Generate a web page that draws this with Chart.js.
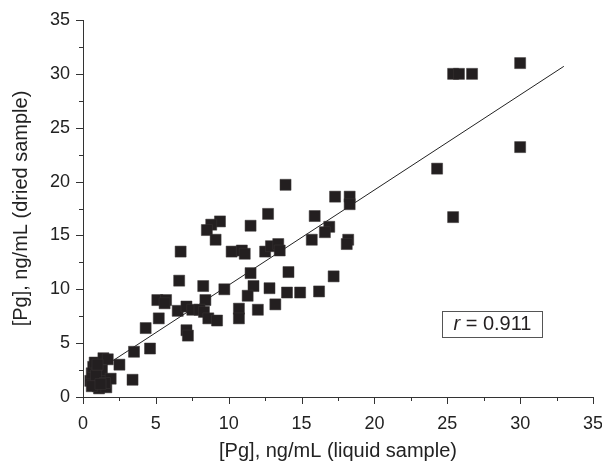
<!DOCTYPE html>
<html>
<head>
<meta charset="utf-8">
<script src="https://cdn.jsdelivr.net/npm/chart.js@4"></script>
<style>
  html, body { margin: 0; padding: 0; background: #fff; }
  #wrap { width: 602px; height: 463px; }
</style>
</head>
<body>
<div id="wrap"><canvas id="pgChart"></canvas></div>
<script>
// [Pg] liquid sample (x) vs dried sample (y), ng/mL
const liquidX = [30.0, 25.4, 25.8, 26.7, 30.0, 24.3, 25.4, 13.9, 17.3, 18.3, 18.3, 12.7, 15.9, 11.5, 9.4, 8.8,
    8.5, 9.1, 16.9, 16.6, 15.7, 18.2, 18.1, 6.7, 10.2, 10.9, 11.1, 12.5, 12.9, 13.4, 13.5, 11.5,
    14.1, 17.2, 6.6, 8.25, 9.7, 11.7, 11.3, 12.8, 14.0, 14.9, 16.2, 5.1, 5.7, 5.6, 8.4, 6.5,
    7.1, 7.5, 8.0, 8.3, 8.6, 9.2, 10.7, 10.7, 12.0, 13.2, 7.1, 7.2, 5.2, 4.3, 4.6, 3.5,
    2.5, 3.4, 0.5, 0.6, 0.7, 0.8, 1.0, 1.1, 1.2, 1.3, 1.4, 1.6, 1.7, 1.9, 0.9, 1.0,
    0.6, 1.5, 1.2];
const driedY = [31.0, 30.0, 30.0, 30.0, 23.2, 21.2, 16.7, 19.7, 18.6, 18.6, 17.9, 17.0, 16.8, 15.9, 16.3, 16.0,
    15.5, 14.6, 15.8, 15.3, 14.6, 14.6, 14.2, 13.5, 13.5, 13.6, 13.3, 13.5, 14.0, 14.2, 13.6, 11.5,
    11.6, 11.2, 10.8, 10.3, 10.0, 10.3, 9.4, 10.1, 9.7, 9.7, 9.8, 9.0, 9.0, 8.7, 9.0, 8.0,
    8.4, 8.1, 8.1, 7.9, 7.3, 7.1, 8.2, 7.3, 8.1, 8.6, 6.2, 5.7, 7.3, 6.4, 4.5, 4.2,
    3.0, 1.6, 1.5, 2.2, 2.8, 3.2, 1.0, 0.8, 1.8, 2.5, 3.6, 0.9, 3.5, 1.7, 2.0, 3.0,
    1.0, 1.3, 1.2];

// fitted line end points
const fitX = [1.2, 33.0];
const fitY = [2.62, 30.7];

const axisTicks = [0, 5, 10, 15, 20, 25, 30, 35];
const rLabel = { italic: 'r', rest: ' = 0.911', x: 28.1, y: 6.8 };

const ink = '#231f20';
const font = '"Liberation Sans", Arial, sans-serif';

const scatterData = liquidX.map((x, i) => ({ x: x, y: driedY[i] }));
const fitData = fitX.map((x, i) => ({ x: x, y: fitY[i] }));

// outward major + minor ticks and the r box
const extras = {
    id: 'extras',
    afterDraw(chart) {
        const ctx = chart.ctx;
        const xs = chart.scales.x, ys = chart.scales.y;
        const x0 = xs.getPixelForValue(0), y0 = ys.getPixelForValue(0);
        ctx.save();
        ctx.strokeStyle = '#333';
        ctx.lineWidth = 1;
        ctx.beginPath();
        for (let v = 0; v <= 35; v += 2.5) {
            const len = v % 5 === 0 ? 7 : 4;
            const px = Math.round(xs.getPixelForValue(v)) + 0.5;
            ctx.moveTo(px, y0);
            ctx.lineTo(px, y0 + len);
            const py = Math.round(ys.getPixelForValue(v)) + 0.5;
            ctx.moveTo(x0, py);
            ctx.lineTo(x0 - len, py);
        }
        ctx.stroke();

        // r label box
        const cx = xs.getPixelForValue(rLabel.x);
        const cy = ys.getPixelForValue(rLabel.y);
        ctx.font = 'italic 20px ' + font;
        const w1 = ctx.measureText(rLabel.italic).width;
        ctx.font = '20px ' + font;
        const w2 = ctx.measureText(rLabel.rest).width;
        const tw = w1 + w2;
        ctx.fillStyle = '#fff';
        ctx.fillRect(cx - 50, cy - 13, 100, 26);
        ctx.strokeStyle = '#555';
        ctx.strokeRect(Math.round(cx - 50) + 0.5, Math.round(cy - 13) + 0.5, 100, 26);
        ctx.fillStyle = ink;
        ctx.textBaseline = 'middle';
        ctx.textAlign = 'left';
        ctx.font = 'italic 20px ' + font;
        ctx.fillText(rLabel.italic, cx - tw / 2, cy + 1);
        ctx.font = '20px ' + font;
        ctx.fillText(rLabel.rest, cx - tw / 2 + w1, cy + 1);
        ctx.restore();
    }
};

const axisBase = {
    type: 'linear',
    min: 0,
    max: 35,
    grid: { display: false, drawTicks: false },
    border: { display: true, color: '#333', width: 1 },
    afterBuildTicks: s => { s.ticks = axisTicks.map(v => ({ value: v })); },
};

new Chart(document.getElementById('pgChart'), {
    type: 'scatter',
    data: {
        datasets: [
            {
                label: 'fit',
                data: fitData,
                showLine: true,
                borderColor: '#222',
                borderWidth: 1,
                pointRadius: 0,
                order: 2,
            },
            {
                label: 'samples',
                data: scatterData,
                pointStyle: 'rect',
                pointRadius: 7.8,
                backgroundColor: ink,
                borderColor: '#3a3637',
                borderWidth: 0.5,
                order: 1,
            }
        ]
    },
    options: {
        responsive: true,
        maintainAspectRatio: false,
        animation: false,
        layout: { padding: { top: 20, right: 9, left: 0, bottom: 0 } },
        plugins: {
            legend: { display: false },
            tooltip: { enabled: false },
        },
        scales: {
            x: Object.assign({}, axisBase, {
                position: 'bottom',
                ticks: { color: '#222', font: { family: font, size: 18 }, padding: 16, maxRotation: 0 },
                title: {
                    display: true,
                    text: '[Pg], ng/mL (liquid sample)',
                    color: '#222',
                    font: { family: font, size: 20 },
                    padding: { top: -3, bottom: 0 },
                },
                afterFit: s => { s.height = 66; s.paddingLeft = 0; s.paddingRight = 0; },
            }),
            y: Object.assign({}, axisBase, {
                position: 'left',
                ticks: { color: '#222', font: { family: font, size: 18 }, padding: 13 },
                title: {
                    display: true,
                    text: '[Pg], ng/mL (dried sample)',
                    color: '#222',
                    font: { family: font, size: 20 },
                    padding: { top: 9, bottom: 0 },
                },
                afterFit: s => { s.width = 83; s.paddingTop = 0; s.paddingBottom = 0; },
            }),
        }
    },
    plugins: [extras]
});
</script>
</body>
</html>
